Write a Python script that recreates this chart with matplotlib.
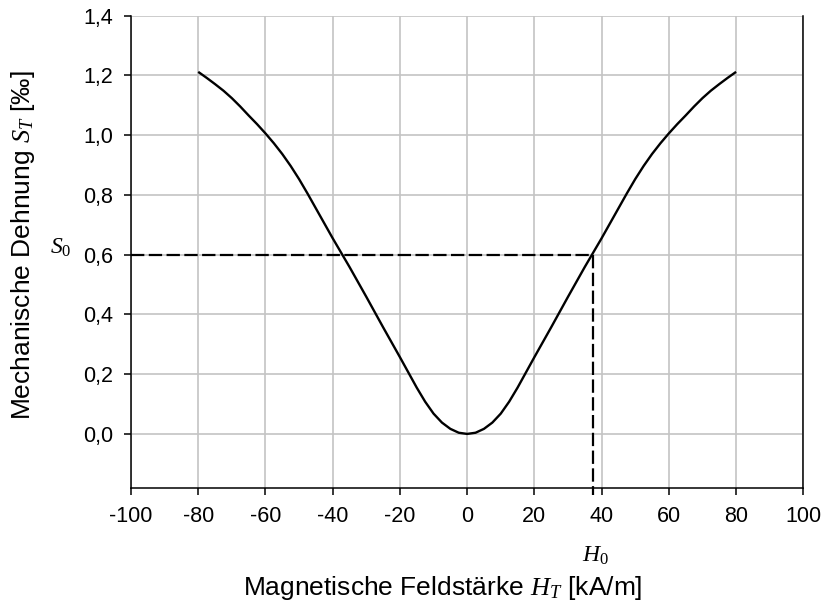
import numpy as np
import matplotlib
matplotlib.use("Agg")
import matplotlib.pyplot as plt

plt.rcParams["font.family"] = ["Liberation Sans", "DejaVu Sans"]
plt.rcParams["mathtext.fontset"] = "custom"
plt.rcParams["mathtext.rm"] = "Liberation Serif"
plt.rcParams["mathtext.it"] = "Liberation Serif:italic"

# Kennlinie (symmetrisch um H=0)
h_pos = [0, 2.5, 5, 7.5, 10, 12.5, 15, 17.5, 20, 22.5, 25, 27.5, 30, 32.5, 35, 37.5,
         40, 42.5, 45, 47.5, 50, 52.5, 55, 57.5, 60, 62.5, 65, 67.5, 70, 72.5, 75, 77.5, 80]
s_pos = [0.0, 0.004, 0.017, 0.038, 0.068, 0.108, 0.155, 0.206, 0.257, 0.307, 0.357,
         0.408, 0.459, 0.509, 0.559, 0.607, 0.655, 0.705, 0.755, 0.805, 0.853, 0.897,
         0.937, 0.973, 1.006, 1.037, 1.066, 1.096, 1.124, 1.149, 1.171, 1.192, 1.212]
h_vals = [-h for h in h_pos[::-1]] + h_pos[1:]
s_vals = s_pos[::-1] + s_pos[1:]

# Arbeitspunkt
S0 = 0.6
H0 = 37.4

x_ticks = [-100, -80, -60, -40, -20, 0, 20, 40, 60, 80, 100]
x_tick_labels = ["-100", "-80", "-60", "-40", "-20", "0", "20", "40", "60", "80", "100"]
y_ticks = [0.0, 0.2, 0.4, 0.6, 0.8, 1.0, 1.2, 1.4]
y_tick_labels = ["0,0", "0,2", "0,4", "0,6", "0,8", "1,0", "1,2", "1,4"]

W, H = 824, 601
fig = plt.figure(figsize=(W / 100, H / 100), dpi=100)
ax = fig.add_axes([131 / W, 1 - 487.7 / H, (803.3 - 131) / W, (487.7 - 15.7) / H])

ax.plot(h_vals, s_vals, color="black", lw=1.7, zorder=3,
        solid_joinstyle="round", solid_capstyle="butt")

# gestrichelte Hilfslinien
ax.plot([-100, H0], [S0, S0], color="black", lw=1.6, dashes=(6, 2), zorder=3, clip_on=False)
ax.plot([H0, H0], [S0, -0.205], color="black", lw=1.6, dashes=(6, 2), zorder=3, clip_on=False)

ax.set_xlim(-100, 100)
ax.set_ylim(-0.18, 1.4)
ax.set_xticks(x_ticks)
ax.set_xticklabels(x_tick_labels)
ax.set_yticks(y_ticks)
ax.set_yticklabels(y_tick_labels)

ax.grid(True, color="#c4c4c4", lw=1.2, zorder=0)
ax.set_axisbelow(True)
ax.spines["top"].set_visible(False)
for s in ["left", "bottom", "right"]:
    ax.spines[s].set_color("black")
    ax.spines[s].set_linewidth(1.1)

ax.tick_params(axis="both", direction="out", length=5, width=1.1, labelsize=15.5, colors="black")
ax.tick_params(axis="x", pad=8)
ax.tick_params(axis="y", pad=8)

fig.text(61 / W, 1 - 248 / H, r"$S_0$", fontsize=17, ha="center", va="center")
fig.text(595 / W, 1 - 556 / H, r"$H_0$", fontsize=17, ha="center", va="center")
fig.text(443 / W, 1 - 588 / H, r"Magnetische Feldstärke $H_T$ [kA/m]", fontsize=19,
         ha="center", va="center")
fig.text(23 / W, 1 - 245 / H, r"Mechanische Dehnung $S_T$ [‰]", fontsize=19,
         ha="center", va="center", rotation=90)

fig.savefig("out.png", dpi=100)
